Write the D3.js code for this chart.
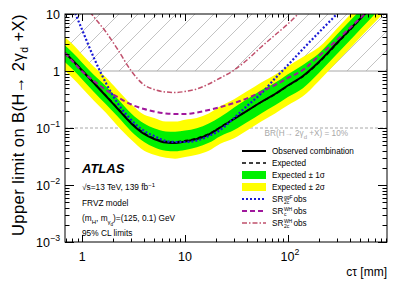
<!DOCTYPE html>
<html lang="en">
<head>
<meta charset="UTF-8">
<title>FRVZ limits</title>
<style>
  body { margin: 0; background: #fff; overflow: hidden; }
  text { font-family: "Liberation Sans", Arial, sans-serif; }
</style>
</head>
<body>
<script src="https://d3js.org/d3.v7.min.js"></script>
<script>
// c tau grid [mm] and limits
const ctau = [0.68, 0.8, 1, 1.3, 1.7, 2.2, 3, 4, 5, 6.5, 8, 10, 13, 17, 22, 30, 40, 55, 75, 100, 140, 200, 300, 450, 650, 920];
const observed = [2.07, 1.56, 1.02, 0.616, 0.364, 0.22, 0.12, 0.0785, 0.0641, 0.0557, 0.0546, 0.058, 0.0641, 0.0769, 0.102, 0.144, 0.199, 0.286, 0.395, 0.557, 0.817, 1.44, 3.1, 6.68, 13.3, 25.3];
const expected = [2.0, 1.52, 1.0, 0.61, 0.37, 0.225, 0.124, 0.081, 0.066, 0.058, 0.057, 0.06, 0.066, 0.079, 0.104, 0.146, 0.2, 0.285, 0.39, 0.55, 0.8, 1.4, 3.0, 6.5, 13, 25];
const band1Up = [2.8, 2.13, 1.4, 0.85, 0.54, 0.33, 0.18, 0.12, 0.099, 0.087, 0.086, 0.09, 0.099, 0.12, 0.156, 0.23, 0.32, 0.46, 0.62, 0.88, 1.28, 2.03, 4.35, 9.4, 18.9, 36];
const band1Dn = [1.42, 1.08, 0.71, 0.43, 0.26, 0.16, 0.087, 0.057, 0.046, 0.04, 0.039, 0.041, 0.046, 0.055, 0.072, 0.092, 0.126, 0.18, 0.25, 0.35, 0.5, 0.92, 1.98, 4.3, 8.6, 16.5];
const band2Up = [3.9, 3.0, 1.95, 1.19, 0.78, 0.47, 0.26, 0.17, 0.15, 0.13, 0.13, 0.14, 0.15, 0.18, 0.24, 0.32, 0.44, 0.63, 0.86, 1.21, 1.76, 2.6, 5.55, 12, 24, 46];
const band2Dn = [1.0, 0.76, 0.5, 0.3, 0.185, 0.11, 0.062, 0.04, 0.034, 0.03, 0.029, 0.031, 0.034, 0.04, 0.053, 0.066, 0.09, 0.13, 0.18, 0.25, 0.36, 0.67, 1.44, 3.1, 6.2, 12];
const srGgF2c = [29.8, 13.8, 5.24, 1.69, 0.616, 0.275, 0.138, 0.0886, 0.0724, 0.0591, 0.0568, 0.0568, 0.0604, 0.0724, 0.0922, 0.15, 0.243, 0.403, 0.739, 1.27, 2.43, 4.74, 10, 21.5, 42.8, 81.7];
const srWHc = [2.07, 1.5, 0.98, 0.668, 0.464, 0.35, 0.258, 0.215, 0.195, 0.18, 0.176, 0.176, 0.187, 0.207, 0.233, 0.275, 0.33, 0.428, 0.568, 0.754, 1.04, 1.83, 3.5, 6.95, 12.7, 23.4];
const srWH2c = [42.8, 27.5, 16.2, 8.86, 4.83, 2.43, 1.0, 0.568, 0.474, 0.428, 0.42, 0.437, 0.483, 0.592, 0.754, 1.04, 1.56, 2.64, 4.28, 6.68, 12.2, 23.4, 48.3, 100, 191, 364];

const xTicks = [1, 10, 100];
const xTickLabels = [["1", ""], ["10", ""], ["10", "2"]];
const yTicks = [10, 1, 0.1, 0.01, 0.001];
const yTickLabels = [["10", ""], ["1", ""], ["10", "\u22121"], ["10", "\u22122"], ["10", "\u22123"]];
const brLimit = 0.1;

const W = 407, H = 289;
const L = 65, R = 387, T = 14, B = 242;

const svg = d3.select("body").append("svg").attr("width", W).attr("height", H);

const x = d3.scaleLog().domain([0.68, 920]).range([L, R]);
const y = d3.scaleLog().domain([1e-3, 10]).range([B, T]);

const defs = svg.append("defs");
defs.append("clipPath").attr("id", "clip")
  .append("rect").attr("x", L).attr("y", T).attr("width", R - L).attr("height", B - T);
const hatch = defs.append("pattern").attr("id", "hatch")
  .attr("patternUnits", "userSpaceOnUse").attr("width", 19).attr("height", 19);
hatch.append("path").attr("d", "M0,19L19,0M-2,2L2,-2M17,21L21,17")
  .attr("stroke", "#b4b4b4").attr("stroke-width", 0.8);

const plot = svg.append("g").attr("clip-path", "url(#clip)");

// excluded region above BR = 1
plot.append("rect").attr("x", L).attr("y", y(10)).attr("width", R - L).attr("height", y(1) - y(10))
  .attr("fill", "url(#hatch)");
plot.append("line").attr("x1", L).attr("x2", R).attr("y1", y(1)).attr("y2", y(1))
  .attr("stroke", "#a8a8a8").attr("stroke-width", 1);
plot.append("line").attr("x1", L).attr("x2", R).attr("y1", y(brLimit)).attr("y2", y(brLimit))
  .attr("stroke", "#a8a8a8").attr("stroke-width", 1).attr("stroke-dasharray", "3,2");

const band = (up, dn) => d3.area()
  .x((d, i) => x(ctau[i])).y0((d, i) => y(dn[i])).y1((d, i) => y(up[i]))
  .curve(d3.curveMonotoneX)(ctau);
plot.append("path").attr("d", band(band2Up, band2Dn)).attr("fill", "#ffff00");
plot.append("path").attr("d", band(band1Up, band1Dn)).attr("fill", "#00f000");

const line = d3.line().x((d, i) => x(ctau[i])).y(d => y(d)).curve(d3.curveMonotoneX);

const styles = {
  obs: { stroke: "#000", width: 2, dash: null },
  exp: { stroke: "#000", width: 1.5, dash: "4,3" },
  ggf: { stroke: "#1a1ad6", width: 2.2, dash: "2,2" },
  whc: { stroke: "#a0189c", width: 2, dash: "5,3" },
  wh2c: { stroke: "#c0506c", width: 1.5, dash: "5,2,1.5,2" }
};

function drawLine(g, d, s) {
  return g.append("path").attr("d", d).attr("fill", "none")
    .attr("stroke", s.stroke).attr("stroke-width", s.width)
    .attr("stroke-dasharray", s.dash);
}
drawLine(plot, line(expected), styles.exp);
drawLine(plot, line(observed), styles.obs);
drawLine(plot, line(srWH2c), styles.wh2c);
drawLine(plot, line(srGgF2c), styles.ggf);
drawLine(plot, line(srWHc), styles.whc);

// BR label
const br = svg.append("text").attr("x", 348).attr("y", 136).attr("text-anchor", "end")
  .attr("font-size", 8.2).attr("fill", "#a8a8a8");
br.append("tspan").text("BR(H\u2192 2\u03B3");
br.append("tspan").attr("font-size", 6).attr("dy", 2.5).text("d");
br.append("tspan").attr("dy", -2.5).text(" +X) = 10%");

// frame and ticks
svg.append("rect").attr("x", L).attr("y", T).attr("width", R - L).attr("height", B - T)
  .attr("fill", "none").attr("stroke", "#000").attr("stroke-width", 1);

const minorX = [], minorY = [];
for (let e = -1; e <= 3; e++) for (let m = 1; m < 10; m++) {
  const v = m * Math.pow(10, e);
  if (v >= 0.68 && v <= 920) minorX.push([v, m === 1]);
}
for (let e = -3; e <= 0; e++) for (let m = 1; m < 10; m++) minorY.push([m * Math.pow(10, e), m === 1]);
minorY.push([10, true]);

const ticks = svg.append("g").attr("stroke", "#000").attr("stroke-width", 1);
minorX.forEach(([v, major]) => {
  const len = major ? 7 : 3.5, px = Math.round(x(v)) + 0.5;
  ticks.append("line").attr("x1", px).attr("x2", px).attr("y1", B).attr("y2", B - len);
  ticks.append("line").attr("x1", px).attr("x2", px).attr("y1", T).attr("y2", T + len);
});
minorY.forEach(([v, major]) => {
  const len = major ? 9 : 4.5, py = Math.round(y(v)) + 0.5;
  ticks.append("line").attr("x1", L).attr("x2", L + len).attr("y1", py).attr("y2", py);
  ticks.append("line").attr("x1", R).attr("x2", R - len).attr("y1", py).attr("y2", py);
});

function powLabel(g, px, py, parts, anchor, size) {
  const t = g.append("text").attr("x", px).attr("y", py).attr("text-anchor", anchor).attr("font-size", size);
  t.append("tspan").text(parts[0]);
  if (parts[1]) t.append("tspan").attr("font-size", size * 0.7).attr("dy", -size * 0.45).text(parts[1]);
  return t;
}
xTicks.forEach((v, i) => powLabel(svg, x(v) + (xTickLabels[i][1] ? 2 : 0), 261, xTickLabels[i], "middle", 12.5));
yTicks.forEach((v, i) => powLabel(svg, 60, y(v) + 4.5, yTickLabels[i], "end", 12.5));

// axis titles
svg.append("text").attr("x", R).attr("y", 276).attr("text-anchor", "end").attr("font-size", 12)
  .text("c\u03C4 [mm]");
const yt = svg.append("text").attr("transform", `translate(24,${T}) rotate(-90)`)
  .attr("text-anchor", "end").attr("font-size", 16.5).attr("letter-spacing", 0.45);
yt.append("tspan").text("Upper limit on B(H\u2192 2\u03B3");
yt.append("tspan").attr("font-size", 10.5).attr("dy", 3.5).text("d");
yt.append("tspan").attr("dy", -3.5).text(" +X)");

// ATLAS label block
const info = svg.append("g");
info.append("text").attr("x", 82).attr("y", 173).attr("font-size", 13)
  .attr("font-weight", "bold").attr("font-style", "italic").text("ATLAS");
const s1 = info.append("text").attr("x", 82).attr("y", 190).attr("font-size", 8.3);
s1.append("tspan").text("\u221As=13 TeV, 139 fb");
s1.append("tspan").attr("font-size", 6).attr("dy", -3.5).text("\u22121");
info.append("text").attr("x", 82).attr("y", 206).attr("font-size", 8.3).text("FRVZ model");
const s3 = info.append("text").attr("x", 82).attr("y", 221).attr("font-size", 8.3);
s3.append("tspan").text("(m");
s3.append("tspan").attr("font-size", 6).attr("dy", 2.5).text("H");
s3.append("tspan").attr("dy", -2.5).text(", m");
s3.append("tspan").attr("font-size", 6).attr("dy", 2.5).text("\u03B3");
s3.append("tspan").attr("font-size", 4.5).attr("dy", 2).text("d");
s3.append("tspan").attr("dy", -4.5).text(")=(125, 0.1) GeV");
info.append("text").attr("x", 82).attr("y", 236).attr("font-size", 8.3).text("95% CL limits");

// legend
const leg = svg.append("g");
const rowY = [151, 163, 175, 187, 199, 211, 223];
const lx0 = 242, lx1 = 266, tx = 272, fs = 8.2;
function legLine(i, s) {
  leg.append("line").attr("x1", lx0).attr("x2", lx1).attr("y1", rowY[i]).attr("y2", rowY[i])
    .attr("stroke", s.stroke).attr("stroke-width", s.width).attr("stroke-dasharray", s.dash);
}
function legBox(i, c) {
  leg.append("rect").attr("x", lx0).attr("y", rowY[i] - 4).attr("width", lx1 - lx0).attr("height", 8).attr("fill", c);
}
function legText(i, str) {
  return leg.append("text").attr("x", tx).attr("y", rowY[i] + 3).attr("font-size", fs).text(str);
}
function legSR(i, sup, sub) {
  const t = legText(i, "SR");
  const w = t.node().getComputedTextLength();
  leg.append("text").attr("x", tx + w + 0.5).attr("y", rowY[i] - 0.5).attr("font-size", 5).text(sup);
  leg.append("text").attr("x", tx + w + 0.5).attr("y", rowY[i] + 5).attr("font-size", 5).text(sub);
  leg.append("text").attr("x", tx + w + 10).attr("y", rowY[i] + 3).attr("font-size", fs).text("obs");
}
legLine(0, styles.obs); legText(0, "Observed combination");
legLine(1, styles.exp); legText(1, "Expected");
legBox(2, "#00f000"); legText(2, "Expected \u00B1 1\u03C3");
legBox(3, "#ffff00"); legText(3, "Expected \u00B1 2\u03C3");
legLine(4, styles.ggf); legSR(4, "ggF", "2c");
legLine(5, styles.whc); legSR(5, "WH", "c");
legLine(6, styles.wh2c); legSR(6, "WH", "2c");
</script>
</body>
</html>
